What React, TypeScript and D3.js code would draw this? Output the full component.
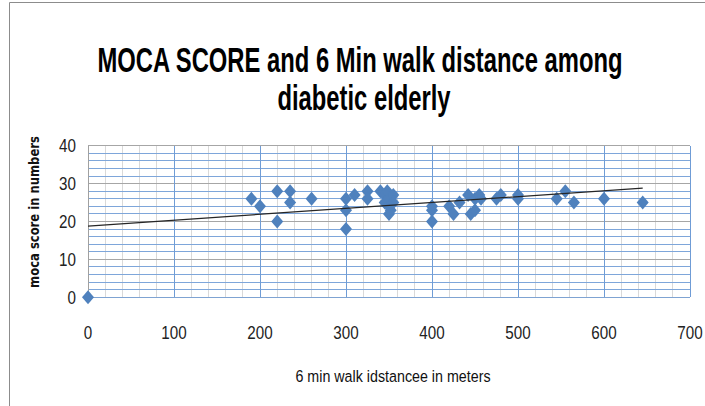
import React from 'react';
import * as d3 from 'd3';

// 6 min walk distance (m) and MOCA score
const walkDistance = [
  0, 190, 200, 220, 220, 235, 235, 260, 300, 300, 300, 310, 325, 325,
  340, 345, 345, 348, 350, 350, 350, 352, 355, 355,
  400, 400, 400, 420, 425, 432, 442, 445, 450, 450, 455, 457,
  475, 480, 500, 500, 545, 555, 565, 600, 645,
];
const mocaScore = [
  0, 26, 24, 28, 20, 28, 25, 26, 26, 23, 18, 27, 28, 26,
  28, 27, 25, 28, 26, 24, 22, 23, 27, 25,
  24, 23, 20, 24, 22, 25, 27, 22, 23, 26, 27, 26,
  26, 27, 27, 26, 26, 28, 25, 26, 25,
];
const xTicks = [0, 100, 200, 300, 400, 500, 600, 700];
const yTicks = [0, 10, 20, 30, 40];
// linear trendline as shown on the chart
const trendIntercept = 18.8;
const trendSlope = 0.0155;

const sans = "'Liberation Sans', Arial, sans-serif";

function diamond(cx: number, cy: number, w: number, h: number) {
  const p = d3.path();
  p.moveTo(cx, cy - h / 2);
  p.lineTo(cx + w / 2, cy);
  p.lineTo(cx, cy + h / 2);
  p.lineTo(cx - w / 2, cy);
  p.closePath();
  return p.toString();
}

export default function App() {
  const width = 705, height = 406;
  const x = d3.scaleLinear().domain([0, 700]).range([88, 690]);
  const y = d3.scaleLinear().domain([0, 40]).range([297.3, 145.7]);

  const vMinor = d3.range(0, 701, 20).filter(v => v % 100 !== 0);
  const hMinor = d3.range(0, 41, 2).filter(v => v % 10 !== 0);
  const trendEnd = d3.max(walkDistance) as number;

  const trend = d3.line<number>()
    .x(d => x(d))
    .y(d => y(trendIntercept + trendSlope * d));

  return (
    <svg width={width} height={height} style={{ position: 'absolute', left: 0, top: 0, background: '#fff' }}>
      {/* chart frame */}
      <path d={`M9.5,${height}V2.5H${width}`} fill="none" stroke="#8c8c8c" />

      {/* title: condensed look via horizontal squeeze */}
      <text transform="translate(360,72) scale(0.85,1.28)" textAnchor="middle" fontFamily={sans}
        fontWeight="bold" fontSize={28}>
        MOCA SCORE and 6 Min walk distance among
      </text>
      <text transform="translate(364,110) scale(0.85,1.28)" textAnchor="middle" fontFamily={sans}
        fontWeight="bold" fontSize={28}>
        diabetic elderly
      </text>

      {/* gridlines */}
      <g shapeRendering="crispEdges">
        {vMinor.map(v => (
          <line key={'vm' + v} x1={x(v)} x2={x(v)} y1={y(40)} y2={y(0)} stroke="#d9d9d9" />
        ))}
        {hMinor.map(v => (
          <line key={'hm' + v} x1={x(0)} x2={x(700)} y1={y(v)} y2={y(v)} stroke="#7ea6da" />
        ))}
        {yTicks.map(v => (
          <line key={'hM' + v} x1={x(0)} x2={x(700)} y1={y(v)} y2={y(v)} stroke={v === 0 ? '#7fa3d2' : '#a6a6a6'} />
        ))}
        {xTicks.map(v => (
          <line key={'vM' + v} x1={x(v)} x2={x(v)} y1={y(40)} y2={y(0)} stroke={v === 0 ? '#a0a0a0' : '#6f9cd6'} />
        ))}
      </g>

      {/* tick labels */}
      {yTicks.map(v => (
        <text key={'yt' + v} transform={`translate(76,${y(v) + 6.5}) scale(0.8,1)`} textAnchor="end"
          fontFamily={sans} fontSize={19} fill="#222">
          {v}
        </text>
      ))}
      {xTicks.map(v => (
        <text key={'xt' + v} transform={`translate(${x(v)},339) scale(0.8,1)`} textAnchor="middle"
          fontFamily={sans} fontSize={19} fill="#222">
          {v}
        </text>
      ))}

      {/* axis titles */}
      <text transform="translate(393,382) scale(0.84,1)" textAnchor="middle" fontFamily={sans} fontSize={17}
        fill="#111">
        6 min walk idstancee in meters
      </text>
      <text transform="translate(39,212) rotate(-90) scale(0.86,1)" textAnchor="middle"
        fontFamily="'DejaVu Sans', Verdana, sans-serif" fontWeight="bold" fontSize={13.5}
        fill="#111">
        moca score in numbers
      </text>

      {/* points */}
      {walkDistance.map((d, i) => (
        <path key={'p' + i} d={diamond(x(d), y(mocaScore[i]), 12, 14)} fill="#4f81bd" />
      ))}

      {/* trendline */}
      <path d={trend([0, trendEnd]) as string} fill="none" stroke="#262626" strokeWidth={1.2} />
    </svg>
  );
}
